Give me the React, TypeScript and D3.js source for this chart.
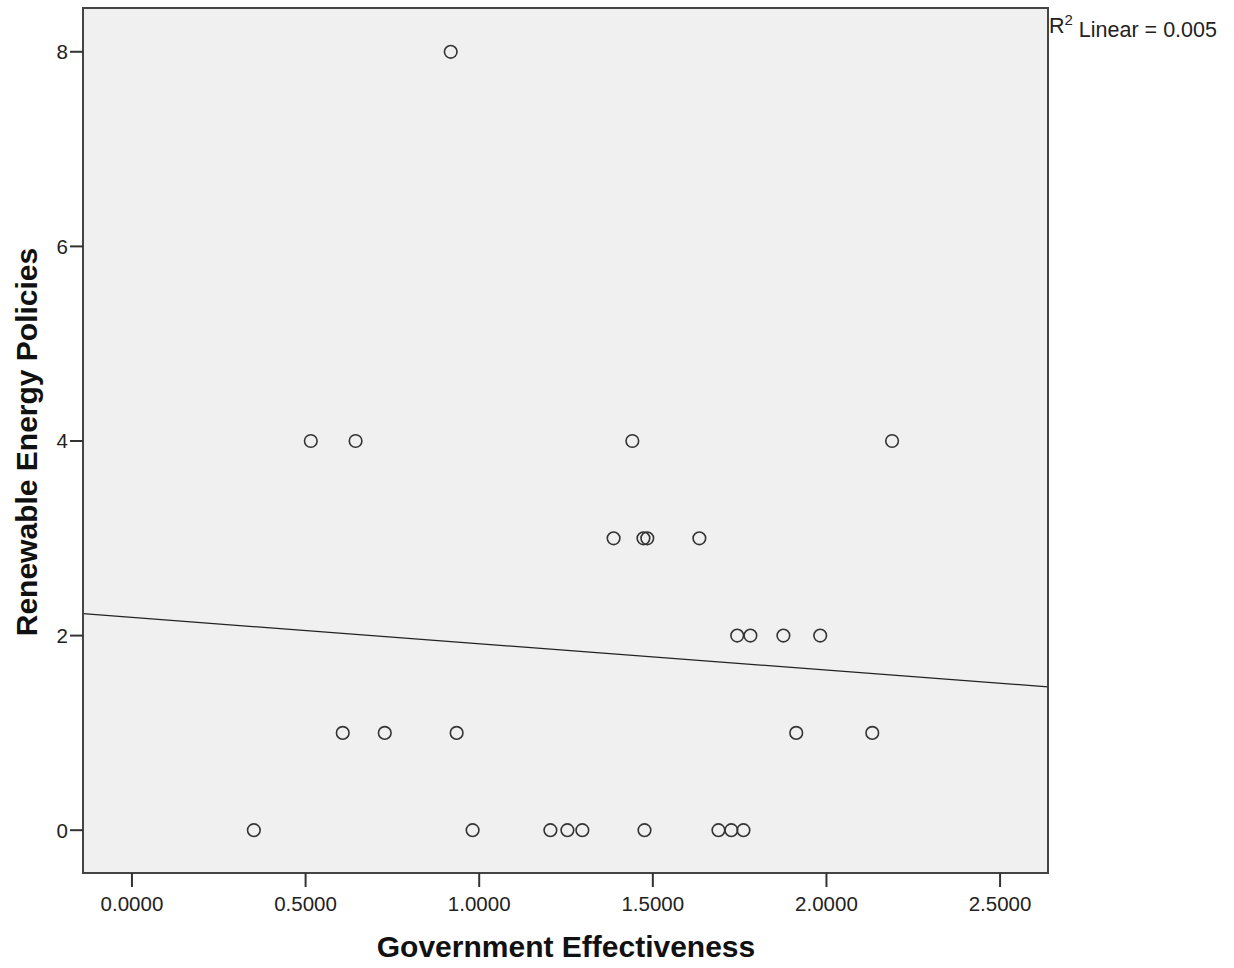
import React from "react";
import * as d3 from "d3";

// Government effectiveness score and number of renewable energy policies per country
const govEffectiveness = [
  0.351, 0.515, 0.644, 0.607, 0.728, 0.918, 0.935, 0.981, 1.205, 1.254, 1.297,
  1.387, 1.441, 1.473, 1.484, 1.476, 1.634, 1.689, 1.726, 1.761, 1.743, 1.781,
  1.876, 1.913, 1.982, 2.132, 2.189,
];
const renewablePolicies = [
  0, 4, 4, 1, 1, 8, 1, 0, 0, 0, 0,
  3, 4, 3, 3, 0, 3, 0, 0, 0, 2, 2,
  2, 1, 2, 1, 4,
];
const xTicks = [0, 0.5, 1.0, 1.5, 2.0, 2.5];
const yTicks = [0, 2, 4, 6, 8];
const xTitle = "Government Effectiveness";
const yTitle = "Renewable Energy Policies";
const fitLabel = "0.005";

const W = 1234;
const H = 968;
const plot = { left: 83, right: 1048, top: 8, bottom: 873 };
const FONT = "'Liberation Sans', Arial, sans-serif";

export default function App() {
  const x = d3.scaleLinear().domain([-0.141, 2.638]).range([plot.left, plot.right]);
  const y = d3.scaleLinear().domain([-0.44, 8.45]).range([plot.bottom, plot.top]);

  // ordinary least squares fit line
  const mx = d3.mean(govEffectiveness)!;
  const my = d3.mean(renewablePolicies)!;
  let sxy = 0;
  let sxx = 0;
  govEffectiveness.forEach((v, i) => {
    sxy += (v - mx) * (renewablePolicies[i] - my);
    sxx += (v - mx) * (v - mx);
  });
  const slope = sxy / sxx;
  const intercept = my - slope * mx;
  const [x0, x1] = x.domain();
  const fitLine = d3.line<number>()
    .x((d) => x(d))
    .y((d) => y(intercept + slope * d));

  return (
    <svg width={W} height={H} style={{ position: "absolute", left: 0, top: 0, background: "#fff" }} fontFamily={FONT}>
      <rect x={plot.left} y={plot.top} width={plot.right - plot.left} height={plot.bottom - plot.top} fill="#f0f0f0" />
      <clipPath id="plotClip">
        <rect x={plot.left} y={plot.top} width={plot.right - plot.left} height={plot.bottom - plot.top} />
      </clipPath>
      <path d={fitLine([x0, x1])!} stroke="#222" strokeWidth={1.3} fill="none" clipPath="url(#plotClip)" />
      {govEffectiveness.map((v, i) => (
        <circle key={i} cx={x(v)} cy={y(renewablePolicies[i])} r={6.3} fill="none" stroke="#333" strokeWidth={1.6} />
      ))}
      <rect x={plot.left} y={plot.top} width={plot.right - plot.left} height={plot.bottom - plot.top} fill="none" stroke="#444" strokeWidth={2} />
      {yTicks.map((t) => (
        <g key={t}>
          <line x1={plot.left - 13} x2={plot.left} y1={y(t)} y2={y(t)} stroke="#333" strokeWidth={2} />
          <text x={plot.left - 15} y={y(t)} dy="0.36em" textAnchor="end" fontSize={20.5} fill="#222">{t}</text>
        </g>
      ))}
      {xTicks.map((t) => (
        <g key={t}>
          <line x1={x(t)} x2={x(t)} y1={plot.bottom} y2={plot.bottom + 14} stroke="#333" strokeWidth={2} />
          <text x={x(t)} y={911} textAnchor="middle" fontSize={20.5} fill="#222">{d3.format(".4f")(t)}</text>
        </g>
      ))}
      <text x={566} y={957} textAnchor="middle" fontSize={30} fontWeight="bold" fill="#111">{xTitle}</text>
      <text transform={`translate(37,442) rotate(-90)`} textAnchor="middle" fontSize={30} fontWeight="bold" fill="#111">{yTitle}</text>
      <text x={plot.right + 1} y={33} fontSize={21.5} fill="#222">
        R<tspan fontSize={15} dy="-0.55em">2</tspan><tspan dy="0.55em"> Linear = {fitLabel}</tspan>
      </text>
    </svg>
  );
}
